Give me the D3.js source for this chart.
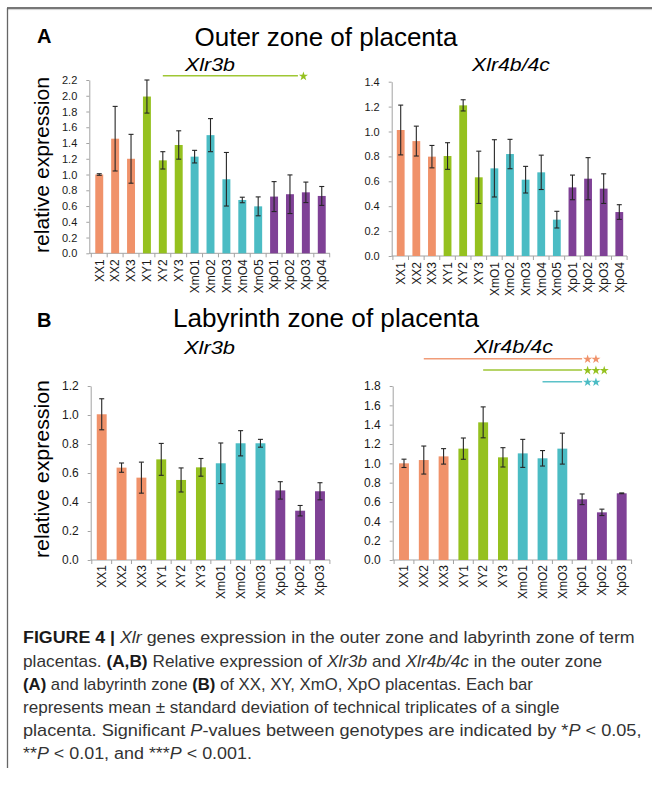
<!DOCTYPE html>
<html>
<head>
<meta charset="utf-8">
<script src="https://cdn.jsdelivr.net/npm/d3@7"></script>
<style>
  body { margin: 0; background: #fff; }
  svg { display: block; }
</style>
</head>
<body>
<script>
// ---- data ----
const catsOuter = ["XX1","XX2","XX3","XY1","XY2","XY3","XmO1","XmO2","XmO3","XmO4","XmO5","XpO1","XpO2","XpO3","XpO4"];
const catsLab = ["XX1","XX2","XX3","XY1","XY2","XY3","XmO1","XmO2","XmO3","XpO1","XpO2","XpO3"];

const outerXlr3b   = [1.00, 1.455, 1.20, 1.99, 1.18, 1.375, 1.227, 1.50, 0.94, 0.677, 0.596, 0.72, 0.75, 0.774, 0.728];
const outerXlr3bSd = [0.01, 0.41, 0.31, 0.21, 0.11, 0.18, 0.08, 0.21, 0.34, 0.035, 0.12, 0.19, 0.245, 0.13, 0.12];
const outerXlr4    = [1.012, 0.923, 0.798, 0.803, 1.21, 0.632, 0.704, 0.819, 0.613, 0.672, 0.292, 0.551, 0.621, 0.541, 0.353];
const outerXlr4Sd  = [0.20, 0.12, 0.09, 0.107, 0.045, 0.21, 0.23, 0.118, 0.107, 0.138, 0.067, 0.099, 0.169, 0.119, 0.059];

const labXlr3b   = [1.005, 0.637, 0.568, 0.694, 0.552, 0.639, 0.667, 0.805, 0.805, 0.48, 0.34, 0.474];
const labXlr3bSd = [0.107, 0.032, 0.107, 0.11, 0.083, 0.061, 0.14, 0.087, 0.027, 0.06, 0.036, 0.059];
const labXlr4    = [1.0, 1.034, 1.072, 1.152, 1.424, 1.062, 1.103, 1.052, 1.152, 0.628, 0.493, 0.69];
const labXlr4Sd  = [0.043, 0.145, 0.08, 0.11, 0.16, 0.1, 0.145, 0.08, 0.16, 0.055, 0.033, 0.004];

const ticksOuter3b = [0.0,0.2,0.4,0.6,0.8,1.0,1.2,1.4,1.6,1.8,2.0,2.2];
const ticksOuter4  = [0.0,0.2,0.4,0.6,0.8,1.0,1.2,1.4];
const ticksLab3b   = [0.0,0.2,0.4,0.6,0.8,1.0,1.2];
const ticksLab4    = [0.0,0.2,0.4,0.6,0.8,1.0,1.2,1.4,1.6,1.8];

// significance brackets: from / to category, extra steps past "to", number of stars, group
const sigOuter3b = [{from:"XY2", to:"XpO2", past:0.5, stars:1, group:"XY"}];
const sigOuter4 = [];
const sigLab3b = [];
const sigLab4 = [
  {from:"XX2",  to:"XpO1", past:0, stars:2, group:"XX"},
  {from:"XY2",  to:"XpO1", past:0, stars:3, group:"XY"},
  {from:"XmO2", to:"XpO1", past:0, stars:2, group:"XmO"}
];

// ---- styling ----
const font = "'Liberation Sans', Arial, Helvetica, sans-serif";
const axisColor = "#a3a3a3";
const groupColor = {XX:"#f0926a", XY:"#95c11f", XmO:"#4bbcc4", XpO:"#7f4196"};
const groupOf = c => c.replace(/\d+$/, "");

const svg = d3.select("body").append("svg")
  .attr("width", 652).attr("height", 787)
  .style("font-family", font);

// frame
svg.append("line").attr("x1", 7).attr("x2", 652).attr("y1", 8).attr("y2", 8)
  .attr("stroke", "#4a4a4a").attr("stroke-width", 1.6);
svg.append("line").attr("x1", 7).attr("x2", 652).attr("y1", 9.6).attr("y2", 9.6)
  .attr("stroke", "#d0d0d0").attr("stroke-width", 1);
svg.append("line").attr("x1", 7.5).attr("x2", 7.5).attr("y1", 8).attr("y2", 768)
  .attr("stroke", "#666").attr("stroke-width", 1.3);

function drawPanel(p, cats, vals, sds, yTicks, sigs) {
  const y = d3.scaleLinear().domain([0, d3.max(yTicks)]).range([p.bottom, p.top]);
  const x = d3.scaleBand().domain(cats).range([p.left, p.right])
    .paddingInner(0.5).paddingOuter(0.25);
  const bw = x.bandwidth();
  const step = x.step();
  const g = svg.append("g");

  // y axis
  g.append("g")
    .attr("transform", `translate(${p.axisX},0)`)
    .call(d3.axisLeft(y).tickValues(yTicks).tickFormat(d3.format(".1f"))
      .tickSize(3).tickPadding(p.yPad).tickSizeOuter(0))
    .attr("font-family", font).attr("font-size", p.yFont)
    .call(a => a.select(".domain").attr("stroke", axisColor))
    .call(a => a.selectAll(".tick line").attr("stroke", axisColor))
    .call(a => a.selectAll(".tick text").attr("fill", "#1a1a1a"));

  // x axis line + boundary ticks
  g.append("line")
    .attr("x1", p.axisX).attr("x2", p.axisEnd)
    .attr("y1", p.bottom).attr("y2", p.bottom)
    .attr("stroke", axisColor);
  const bounds = cats.map(c => x(c) - step * 0.25).concat([p.right]);
  g.selectAll(".bt").data(bounds).join("line")
    .attr("x1", d => d).attr("x2", d => d)
    .attr("y1", p.bottom).attr("y2", p.bottom + 4)
    .attr("stroke", axisColor);

  // category labels
  g.append("g")
    .attr("transform", `translate(0,${p.bottom})`)
    .call(d3.axisBottom(x).tickSize(0))
    .attr("font-family", font).attr("font-size", p.xFont)
    .call(a => a.select(".domain").remove())
    .call(a => a.selectAll(".tick text")
      .attr("fill", "#1a1a1a")
      .attr("transform", "rotate(-90)")
      .attr("text-anchor", "end")
      .attr("x", -p.xGap).attr("y", 0).attr("dy", "0.36em"));

  // bars
  g.selectAll(".bar").data(cats).join("rect")
    .attr("x", c => x(c)).attr("width", bw)
    .attr("y", (c, i) => y(vals[i]))
    .attr("height", (c, i) => p.bottom - y(vals[i]))
    .attr("fill", c => groupColor[groupOf(c)]);

  // error bars
  const eb = g.selectAll(".eb").data(cats).join("g")
    .attr("stroke", "#262626").attr("stroke-width", 1.1);
  eb.append("line")
    .attr("x1", c => x(c) + bw / 2).attr("x2", c => x(c) + bw / 2)
    .attr("y1", (c, i) => y(vals[i] - sds[i])).attr("y2", (c, i) => y(vals[i] + sds[i]));
  eb.append("line")
    .attr("x1", c => x(c) + bw / 2 - 2.5).attr("x2", c => x(c) + bw / 2 + 2.5)
    .attr("y1", (c, i) => y(vals[i] + sds[i])).attr("y2", (c, i) => y(vals[i] + sds[i]));
  eb.append("line")
    .attr("x1", c => x(c) + bw / 2 - 2.5).attr("x2", c => x(c) + bw / 2 + 2.5)
    .attr("y1", (c, i) => y(vals[i] - sds[i])).attr("y2", (c, i) => y(vals[i] - sds[i]));

  // significance lines
  const star = d3.symbol(d3.symbolStar).size(26);
  sigs.forEach((s, k) => {
    const x1 = x(s.from) + bw / 2;
    const x2 = x(s.to) + bw / 2 + s.past * step;
    const yy = p.sigY[k];
    const col = groupColor[s.group];
    g.append("line").attr("x1", x1).attr("x2", x2).attr("y1", yy).attr("y2", yy)
      .attr("stroke", col).attr("stroke-width", 1.5).attr("opacity", 0.9);
    g.selectAll(null).data(d3.range(s.stars)).join("path")
      .attr("d", star)
      .attr("transform", j => `translate(${x2 + 5.5 + j * 8.3},${yy + 0.5})`)
      .attr("fill", col);
  });

  // gene title
  g.append("text")
    .attr("x", p.titleX).attr("y", p.titleY)
    .attr("text-anchor", "middle")
    .attr("font-size", 18).attr("font-style", "italic")
    .attr("textLength", p.titleW).attr("lengthAdjust", "spacingAndGlyphs")
    .text(p.title);

  // y label
  if (p.ylabel) {
    g.append("text")
      .attr("transform", `translate(${p.ylabelX},${p.ylabelY}) rotate(-90)`)
      .attr("text-anchor", "middle")
      .attr("font-size", 20)
      .attr("textLength", p.ylabelW).attr("lengthAdjust", "spacingAndGlyphs")
      .text("relative expression");
  }
}

// panel layouts
drawPanel({axisX:89.3, left:91.3, right:329.7, axisEnd:330, top:80, bottom:253.3,
  yFont:11, yPad:9, xFont:12, xGap:6, sigY:[75.8],
  title:"Xlr3b", titleX:210, titleY:71, titleW:50,
  ylabel:true, ylabelX:49, ylabelY:165, ylabelW:176},
  catsOuter, outerXlr3b, outerXlr3bSd, ticksOuter3b, sigOuter3b);

drawPanel({axisX:391.7, left:392.9, right:627.1, axisEnd:627, top:81.7, bottom:256,
  yFont:11, yPad:9, xFont:12, xGap:6, sigY:[],
  title:"Xlr4b/4c", titleX:511, titleY:71, titleW:78},
  catsOuter, outerXlr4, outerXlr4Sd, ticksOuter4, sigOuter4);

drawPanel({axisX:90.7, left:91.8, right:329.9, axisEnd:330, top:386, bottom:560,
  yFont:12, yPad:9, xFont:12, xGap:5, sigY:[],
  title:"Xlr3b", titleX:209.5, titleY:354, titleW:51,
  ylabel:true, ylabelX:49, ylabelY:469, ylabelW:178},
  catsLab, labXlr3b, labXlr3bSd, ticksLab3b, sigLab3b);

drawPanel({axisX:392.7, left:394.1, right:631.6, axisEnd:632, top:386, bottom:560,
  yFont:12, yPad:9, xFont:12, xGap:5, sigY:[358.7, 370, 381.7],
  title:"Xlr4b/4c", titleX:513.5, titleY:353, titleW:79},
  catsLab, labXlr4, labXlr4Sd, ticksLab4, sigLab4);

// panel letters and zone titles
svg.append("text").attr("x", 37).attr("y", 43).attr("font-size", 20).attr("font-weight", "bold").text("A");
svg.append("text").attr("x", 37).attr("y", 327).attr("font-size", 20).attr("font-weight", "bold").text("B");
svg.append("text").attr("x", 326).attr("y", 45.5).attr("text-anchor", "middle")
  .attr("font-size", 26).attr("textLength", 263).attr("lengthAdjust", "spacingAndGlyphs")
  .text("Outer zone of placenta");
svg.append("text").attr("x", 326).attr("y", 327).attr("text-anchor", "middle")
  .attr("font-size", 26).attr("textLength", 306).attr("lengthAdjust", "spacingAndGlyphs")
  .text("Labyrinth zone of placenta");

// caption
const captionLines = [
  {w:612, parts:[["FIGURE 4 | ","b"],["Xlr","i"],[" genes expression in the outer zone and labyrinth zone of term"]]},
  {w:580, parts:[["placentas. "],["(A,B)","b"],[" Relative expression of "],["Xlr3b","i"],[" and "],["Xlr4b/4c","i"],[" in the outer zone"]]},
  {w:510, parts:[["(A)","b"],[" and labyrinth zone "],["(B)","b"],[" of XX, XY, XmO, XpO placentas. Each bar"]]},
  {w:537, parts:[["represents mean \u00b1 standard deviation of technical triplicates of a single"]]},
  {w:619, parts:[["placenta. Significant "],["P","i"],["-values between genotypes are indicated by *"],["P","i"],[" < 0.05,"]]},
  {w:229, parts:[["**"],["P","i"],[" < 0.01, and ***"],["P","i"],[" < 0.001."]]}
];
captionLines.forEach((ln, i) => {
  const t = svg.append("text")
    .attr("transform", `translate(23,${643.3 + i * 23.2})`)
    .attr("font-size", 16).attr("fill", "#333");
  ln.parts.forEach(([s, st]) => {
    const ts = t.append("tspan").text(s);
    if (st === "b") ts.attr("font-weight", "bold").attr("fill", "#1a1a1a");
    if (st === "i") ts.attr("font-style", "italic");
  });
  const len = t.node().getComputedTextLength();
  t.attr("transform", `translate(23,${643.3 + i * 23.2}) scale(${ln.w / len},1)`);
});
</script>
</body>
</html>
